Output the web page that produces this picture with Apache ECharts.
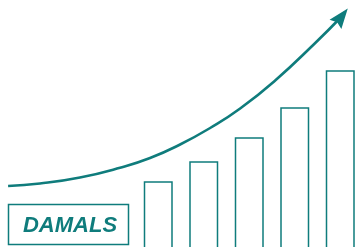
<!DOCTYPE html>
<html>
<head>
<meta charset="utf-8">
<script src="https://cdn.jsdelivr.net/npm/echarts@6.0.0/dist/echarts.min.js"></script>
<style>
  html, body { margin: 0; padding: 0; background: #fff; }
  #chart { width: 356px; height: 247px; }
</style>
</head>
<body>
<div id="chart"></div>
<script>
// bar positions (one unit = one bar slot) and heights (0-100 scale)
var barX = [3.5, 4.5, 5.5, 6.5, 7.5]
var barValues = [27.5, 35.5, 45.1, 57.1, 71.9]

// growth curve; last point carries the arrow head
var curveX = [0.2, 0.9, 1.78, 2.66, 3.32, 3.98, 4.64, 5.3, 6.07, 6.95, 7.53]
var curveY = [25.6, 26.6, 29.0, 32.9, 36.8, 42.2, 48.8, 56.6, 67.8, 82.8, 93.4]

var brandName = 'DAMALS'
var teal = '#0f7c7c'

var chart = echarts.init(document.getElementById('chart'))

var barData = barX.map(function (x, i) {
	return [x, barValues[i]]
})
var curveData = curveX.map(function (x, i) {
	var item = { value: [x, curveY[i]] }
	if (i === curveX.length - 1) {
		item.symbol = 'path://M7,0 L14,18 L7,15.5 L0,18 Z'
		item.symbolSize = [15, 20]
		item.symbolRotate = -38
		item.itemStyle = { color: teal }
	}
	return item
})

chart.setOption({
	backgroundColor: '#fff',
	animation: false,
	// grid runs a little past the canvas so the last bar and the bar bottoms are cut off
	grid: {
		left: -1,
		top: 0,
		width: 364,
		height: 250,
		outerBoundsMode: 'none',
	},
	xAxis: { type: 'value', min: 0, max: 8, show: false },
	yAxis: { type: 'value', min: 0, max: 100, show: false },
	series: [
		{
			type: 'bar',
			data: barData,
			barWidth: 29,
			itemStyle: { color: '#fff', borderColor: teal, borderWidth: 1.5 },
			silent: true,
		},
		{
			type: 'line',
			data: curveData,
			smooth: 0.5,
			symbol: 'none',
			showSymbol: true,
			lineStyle: { color: teal, width: 2.6 },
			z: 3,
		},
	],
	graphic: [
		{
			type: 'rect',
			shape: { x: 8.5, y: 204.5, width: 120, height: 40 },
			style: { fill: '#fff', stroke: teal, lineWidth: 1.5 },
		},
		{
			type: 'text',
			x: 70,
			y: 225.5,
			style: {
				text: brandName,
				fill: teal,
				font: 'italic bold 22px "Liberation Sans"',
				align: 'center',
				verticalAlign: 'middle',
			},
		},
	],
})
</script>
</body>
</html>
